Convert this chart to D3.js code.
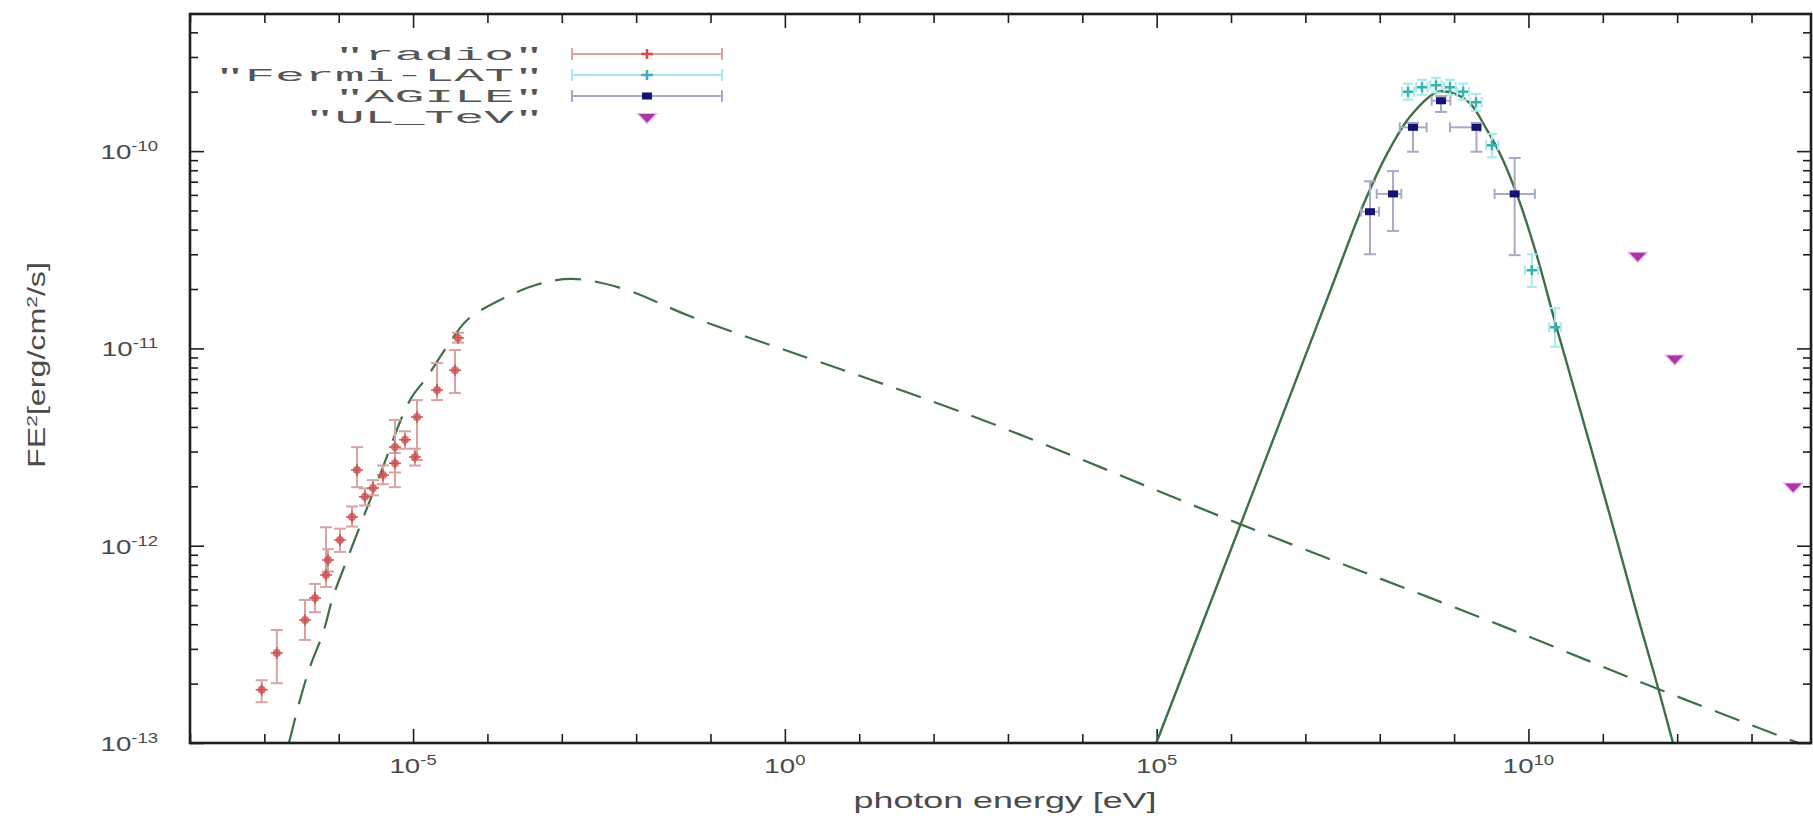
<!DOCTYPE html>
<html><head><meta charset="utf-8">
<script src="https://cdn.jsdelivr.net/npm/d3@7/dist/d3.min.js"></script>
<style>body{margin:0;background:#fff;}svg{display:block;}</style>
</head><body>
<svg id="chart" width="1813" height="816"></svg>
<script>
// ---------------- data ----------------
const xTickValues = [1e-5, 1e0, 1e5, 1e10];
const xTickExponents = ["-5", "0", "5", "10"];
const yTickValues = [1e-13, 1e-12, 1e-11, 1e-10];
const yTickExponents = ["-13", "-12", "-11", "-10"];
const seriesNames = ['"radio"', '"Fermi-LAT"', '"AGILE"', '"UL_TeV"'];
const xTitle = "photon energy [eV]";

// radio: energy, flux, flux low, flux high
const radioE  = [9.2e-8, 1.47e-7, 3.52e-7, 4.8e-7, 6.75e-7, 7.18e-7, 1.04e-6, 1.51e-6, 1.76e-6, 2.25e-6, 2.89e-6, 3.94e-6, 5.71e-6, 5.71e-6, 7.78e-6, 1.06e-5, 1.13e-5, 2.1e-5, 3.66e-5, 4.02e-5];
const radioF  = [1.86e-13, 2.86e-13, 4.2e-13, 5.43e-13, 7.1e-13, 8.47e-13, 1.07e-12, 1.40e-12, 2.42e-12, 1.77e-12, 1.96e-12, 2.28e-12, 2.62e-12, 3.16e-12, 3.44e-12, 2.82e-12, 4.49e-12, 6.15e-12, 7.76e-12, 1.13e-11];
const radioLo = [1.61e-13, 2.01e-13, 3.33e-13, 4.6e-13, 6.18e-13, 7.4e-13, 9.3e-13, 1.25e-12, 1.98e-12, 1.6e-12, 1.8e-12, 2.05e-12, 2.35e-12, 1.98e-12, 3.1e-12, 2.55e-12, 2.72e-12, 5.47e-12, 5.94e-12, 1.07e-11];
const radioHi = [2.08e-13, 3.74e-13, 5.31e-13, 6.4e-13, 1.24e-12, 9.6e-13, 1.22e-12, 1.58e-12, 3.16e-12, 1.95e-12, 2.15e-12, 2.55e-12, 2.95e-12, 4.34e-12, 3.8e-12, 3.1e-12, 5.47e-12, 8.43e-12, 9.82e-12, 1.2e-11];

// Fermi-LAT: energy, energy low/high, flux, flux low/high
const fermiE   = [2.4e8, 3.7e8, 5.71e8, 8.81e8, 1.32e9, 1.97e9, 3.23e9, 1.11e10, 2.28e10];
const fermiELo = [2.0e8, 3.1e8, 4.8e8, 7.4e8, 1.1e9, 1.65e9, 2.7e9, 9.0e9, 1.9e10];
const fermiEHi = [2.9e8, 4.4e8, 6.8e8, 1.05e9, 1.58e9, 2.35e9, 3.9e9, 1.35e10, 2.75e10];
const fermiF   = [2.0e-10, 2.11e-10, 2.16e-10, 2.11e-10, 2.0e-10, 1.77e-10, 1.07e-10, 2.49e-11, 1.28e-11];
const fermiFLo = [1.82e-10, 1.93e-10, 1.98e-10, 1.93e-10, 1.82e-10, 1.6e-10, 9.3e-11, 2.05e-11, 1.02e-11];
const fermiFHi = [2.2e-10, 2.3e-10, 2.35e-10, 2.3e-10, 2.2e-10, 1.95e-10, 1.22e-10, 3.0e-11, 1.6e-11];

// AGILE
const agileE   = [7.4e7, 1.51e8, 2.8e8, 6.67e8, 2.0e9, 6.53e9];
const agileELo = [5.6e7, 9.1e7, 1.86e8, 5.0e8, 8.8e8, 3.5e9];
const agileEHi = [9.8e7, 1.95e8, 4.27e8, 8.9e8, 2.23e9, 1.22e10];
const agileF   = [4.93e-11, 6.07e-11, 1.32e-10, 1.80e-10, 1.32e-10, 6.07e-11];
const agileFLo = [3.0e-11, 3.94e-11, 9.93e-11, 1.58e-10, 9.93e-11, 2.97e-11];
const agileFHi = [7.03e-11, 7.92e-11, 1.39e-10, 1.9e-10, 1.39e-10, 9.23e-11];

// UL_TeV upper limits
const ulE = [2.95e11, 9.3e11, 3.63e13];
const ulF = [2.95e-11, 8.9e-12, 2.0e-12];

// model curves
const synE = [2.14e-7, 3.01e-7, 4.11e-7, 6.15e-7, 8.38e-7, 1.29e-6, 3.37e-6, 9.1e-6, 1.54e-5, 2.86e-5, 5.31e-5, 1.48e-4, 4.37e-4, 1.37e-3, 6.87e-3, 6.0e-2, 3.16e2, 1.30e6, 4.57e9, 6.86e11, 6.3e13];
const synF = [1.0e-13, 1.65e-13, 2.43e-13, 3.61e-13, 5.5e-13, 8.47e-13, 2.15e-12, 5.47e-12, 7.16e-12, 1.02e-11, 1.39e-11, 1.76e-11, 2.09e-11, 2.25e-11, 2.0e-11, 1.43e-11, 4.57e-12, 1.29e-12, 3.9e-13, 1.82e-13, 9.46e-14];
const icE = [9.89e4, 5.92e5, 3.55e6, 2.12e7, 6.22e7, 1.28e8, 2.61e8, 5.89e8, 9.66e8, 1.63e9, 2.77e9, 4.54e9, 7.69e9, 1.30e10, 2.28e10, 4.23e10, 8.09e10, 1.55e11, 2.88e11, 5.19e11, 8.79e11];
const icF = [1.0e-13, 5.74e-13, 3.32e-12, 1.92e-11, 5.5e-11, 9.82e-11, 1.51e-10, 1.99e-10, 1.97e-10, 1.75e-10, 1.28e-10, 9.02e-11, 5.46e-11, 2.94e-11, 1.36e-11, 6.01e-12, 2.54e-12, 1.06e-12, 4.51e-13, 2.08e-13, 1.0e-13];

// ---------------- layout ----------------
const L = 190, R = 1811, T = 14, B = 743;
const svg = d3.select("#chart");
const x = d3.scaleLog().domain([1e-8, Math.pow(10, 13.8)]).range([L, R]);
const y = d3.scaleLog().domain([1e-13, Math.pow(10, -9.305)]).range([B, T]);

const C = {
  curve: "#3f6f48",
  radioBar: "#d9a3a3", radioPt: "#e04848",
  fermiBar: "#a6eaea", fermiPt: "#3ab0b0",
  agileBar: "#a9a9c6", agilePt: "#14146e",
  ul: "#a936a9", ulHalo: "#f4b8f4",
  text: "#4a4a4a", frame: "#1e1e1e"
};

svg.append("defs").append("clipPath").attr("id", "plotClip")
  .append("rect").attr("x", L).attr("y", T).attr("width", R - L).attr("height", B - T);

// ticks (inward, mirrored)
const decadesX = d3.range(-8, 14).map(k => Math.pow(10, k));
const minorX = decadesX.filter(v => !xTickValues.some(t => Math.abs(Math.log10(t) - Math.log10(v)) < 1e-6));
const minorY = [];
d3.range(-13, -9).forEach(k => { for (let m = 2; m <= 9; m++) { const v = m * Math.pow(10, k); if (v < y.domain()[1]) minorY.push(v); } });

function tickGroup(axisGen, transform) {
  const g = svg.append("g").attr("transform", transform).call(axisGen);
  g.select(".domain").remove();
  g.selectAll(".tick line").attr("stroke", C.frame).attr("stroke-width", 1.6);
  g.selectAll(".tick text").remove();
  return g;
}
tickGroup(d3.axisBottom(x).tickValues(minorX).tickSize(-9).tickFormat(""), `translate(0,${B})`);
tickGroup(d3.axisBottom(x).tickValues(xTickValues).tickSize(-14).tickFormat(""), `translate(0,${B})`);
tickGroup(d3.axisTop(x).tickValues(minorX).tickSize(-9).tickFormat(""), `translate(0,${T})`);
tickGroup(d3.axisTop(x).tickValues(xTickValues).tickSize(-14).tickFormat(""), `translate(0,${T})`);
tickGroup(d3.axisLeft(y).tickValues(minorY).tickSize(-8).tickFormat(""), `translate(${L},0)`);
tickGroup(d3.axisLeft(y).tickValues(yTickValues).tickSize(-14).tickFormat(""), `translate(${L},0)`);
tickGroup(d3.axisRight(y).tickValues(minorY).tickSize(-8).tickFormat(""), `translate(${R},0)`);
tickGroup(d3.axisRight(y).tickValues(yTickValues).tickSize(-14).tickFormat(""), `translate(${R},0)`);

// tick labels with superscripts
function powLabel(g, exp) {
  g.append("tspan").text("10");
  g.append("tspan").attr("dy", -8).attr("font-size", 14).text(exp);
}
const font = "'Liberation Sans', Arial, sans-serif";
xTickValues.forEach((v, i) => {
  const t = svg.append("text")
    .attr("transform", `translate(${x(v)},${B + 30}) scale(1.32,1)`)
    .attr("text-anchor", "middle").attr("font-family", font).attr("font-size", 21)
    .attr("fill", C.text);
  powLabel(t, xTickExponents[i]);
});
yTickValues.forEach((v, i) => {
  const t = svg.append("text")
    .attr("transform", `translate(${L - 32},${y(v) + 8}) scale(1.32,1)`)
    .attr("text-anchor", "end").attr("font-family", font).attr("font-size", 21)
    .attr("fill", C.text);
  powLabel(t, yTickExponents[i]);
});

// axis titles
svg.append("text").attr("x", 1005).attr("y", 808)
  .attr("text-anchor", "middle").attr("font-family", font).attr("font-size", 22)
  .attr("fill", C.text).attr("textLength", 303).attr("lengthAdjust", "spacingAndGlyphs")
  .text(xTitle);
const yt = svg.append("text").attr("transform", `translate(45,365) rotate(-90) scale(1.4,1)`)
  .attr("text-anchor", "middle").attr("font-family", font).attr("font-size", 23)
  .attr("fill", C.text);
yt.append("tspan").text("FE");
yt.append("tspan").attr("dy", -8).attr("font-size", 15).text("2");
yt.append("tspan").attr("dy", 8).text("[erg/cm");
yt.append("tspan").attr("dy", -8).attr("font-size", 15).text("2");
yt.append("tspan").attr("dy", 8).text("/s]");

// plot content
const plot = svg.append("g").attr("clip-path", "url(#plotClip)");
const line = d3.line().x(d => x(d[0])).y(d => y(d[1])).curve(d3.curveCatmullRom.alpha(0.5));

plot.append("path").datum(synE.map((e, i) => [e, synF[i]]))
  .attr("d", line).attr("fill", "none").attr("stroke", C.curve)
  .attr("stroke-width", 2.2).attr("stroke-dasharray", "26,14");
plot.append("path").datum(icE.map((e, i) => [e, icF[i]]))
  .attr("d", line).attr("fill", "none").attr("stroke", C.curve).attr("stroke-width", 2.4);

function vbar(g, xv, lo, hi, color, cap) {
  g.append("line").attr("x1", x(xv)).attr("x2", x(xv)).attr("y1", y(lo)).attr("y2", y(hi))
    .attr("stroke", color).attr("stroke-width", 2);
  [lo, hi].forEach(v => g.append("line").attr("x1", x(xv) - cap).attr("x2", x(xv) + cap)
    .attr("y1", y(v)).attr("y2", y(v)).attr("stroke", color).attr("stroke-width", 2));
}
function hbar(g, yv, lo, hi, color, cap) {
  g.append("line").attr("x1", x(lo)).attr("x2", x(hi)).attr("y1", y(yv)).attr("y2", y(yv))
    .attr("stroke", color).attr("stroke-width", 2);
  [lo, hi].forEach(v => g.append("line").attr("x1", x(v)).attr("x2", x(v))
    .attr("y1", y(yv) - cap).attr("y2", y(yv) + cap).attr("stroke", color).attr("stroke-width", 2));
}

// radio
const gR = plot.append("g");
radioE.forEach((e, i) => vbar(gR, e, radioLo[i], radioHi[i], C.radioBar, 6));
radioE.forEach((e, i) => {
  gR.append("circle").attr("cx", x(e)).attr("cy", y(radioF[i])).attr("r", 4)
    .attr("fill", C.radioPt).attr("fill-opacity", 0.8);
  gR.append("path").attr("d", `M${x(e) - 6},${y(radioF[i])}h12M${x(e)},${y(radioF[i]) - 6}v12`)
    .attr("stroke", "#c05a5a").attr("stroke-width", 1.5);
});

// Fermi-LAT
const gF = plot.append("g");
fermiE.forEach((e, i) => {
  vbar(gF, e, fermiFLo[i], fermiFHi[i], C.fermiBar, 5);
  hbar(gF, fermiF[i], fermiELo[i], fermiEHi[i], C.fermiBar, 5);
});
fermiE.forEach((e, i) => {
  gF.append("path").attr("d", `M${x(e) - 5},${y(fermiF[i])}h10M${x(e)},${y(fermiF[i]) - 5}v10`)
    .attr("stroke", C.fermiPt).attr("stroke-width", 2.5);
});

// AGILE
const gA = plot.append("g");
agileE.forEach((e, i) => {
  vbar(gA, e, agileFLo[i], agileFHi[i], C.agileBar, 6);
  hbar(gA, agileF[i], agileELo[i], agileEHi[i], C.agileBar, 5);
});
agileE.forEach((e, i) => {
  gA.append("rect").attr("x", x(e) - 5).attr("y", y(agileF[i]) - 3.5).attr("width", 10).attr("height", 7)
    .attr("fill", C.agilePt);
});

// UL_TeV
const tri = d3.symbol().type(d3.symbolTriangle).size(70);
const gU = plot.append("g");
ulE.forEach((e, i) => {
  gU.append("path").attr("d", tri()).attr("transform", `translate(${x(e)},${y(ulF[i])}) rotate(180) scale(1.3,0.8)`)
    .attr("fill", C.ul).attr("stroke", C.ulHalo).attr("stroke-width", 2.5).attr("paint-order", "stroke");
});

// frame
svg.append("rect").attr("x", L).attr("y", T).attr("width", R - L).attr("height", B - T)
  .attr("fill", "none").attr("stroke", C.frame).attr("stroke-width", 2.6);

// legend
const legendRows = [54, 75, 96, 117];
const legendColors = [[C.radioBar, C.radioPt], [C.fermiBar, C.fermiPt], [C.agileBar, C.agilePt], [null, C.ul]];
seriesNames.forEach((name, i) => {
  const ry = legendRows[i];
  svg.append("text").attr("x", 544).attr("y", ry + 6).attr("text-anchor", "end")
    .attr("font-family", "'Liberation Mono', 'Courier New', monospace").attr("font-size", 18.5)
    .attr("fill", "#555").attr("textLength", name.length * 29.9).attr("lengthAdjust", "spacingAndGlyphs")
    .text(name);
  const [barC, ptC] = legendColors[i];
  if (barC) {
    svg.append("line").attr("x1", 572).attr("x2", 722).attr("y1", ry).attr("y2", ry)
      .attr("stroke", barC).attr("stroke-width", 2);
    [572, 722].forEach(xx => svg.append("line").attr("x1", xx).attr("x2", xx).attr("y1", ry - 6).attr("y2", ry + 6)
      .attr("stroke", barC).attr("stroke-width", 2));
    if (i === 2) svg.append("rect").attr("x", 642).attr("y", ry - 3.5).attr("width", 10).attr("height", 7).attr("fill", ptC);
    else svg.append("path").attr("d", `M641,${ry}h12M647,${ry - 5}v10`).attr("stroke", ptC).attr("stroke-width", 2.5);
  } else {
    svg.append("path").attr("d", tri()).attr("transform", `translate(647,${ry}) rotate(180) scale(1.3,0.8)`)
      .attr("fill", C.ul).attr("stroke", C.ulHalo).attr("stroke-width", 2.5).attr("paint-order", "stroke");
  }
});
</script>
</body></html>
